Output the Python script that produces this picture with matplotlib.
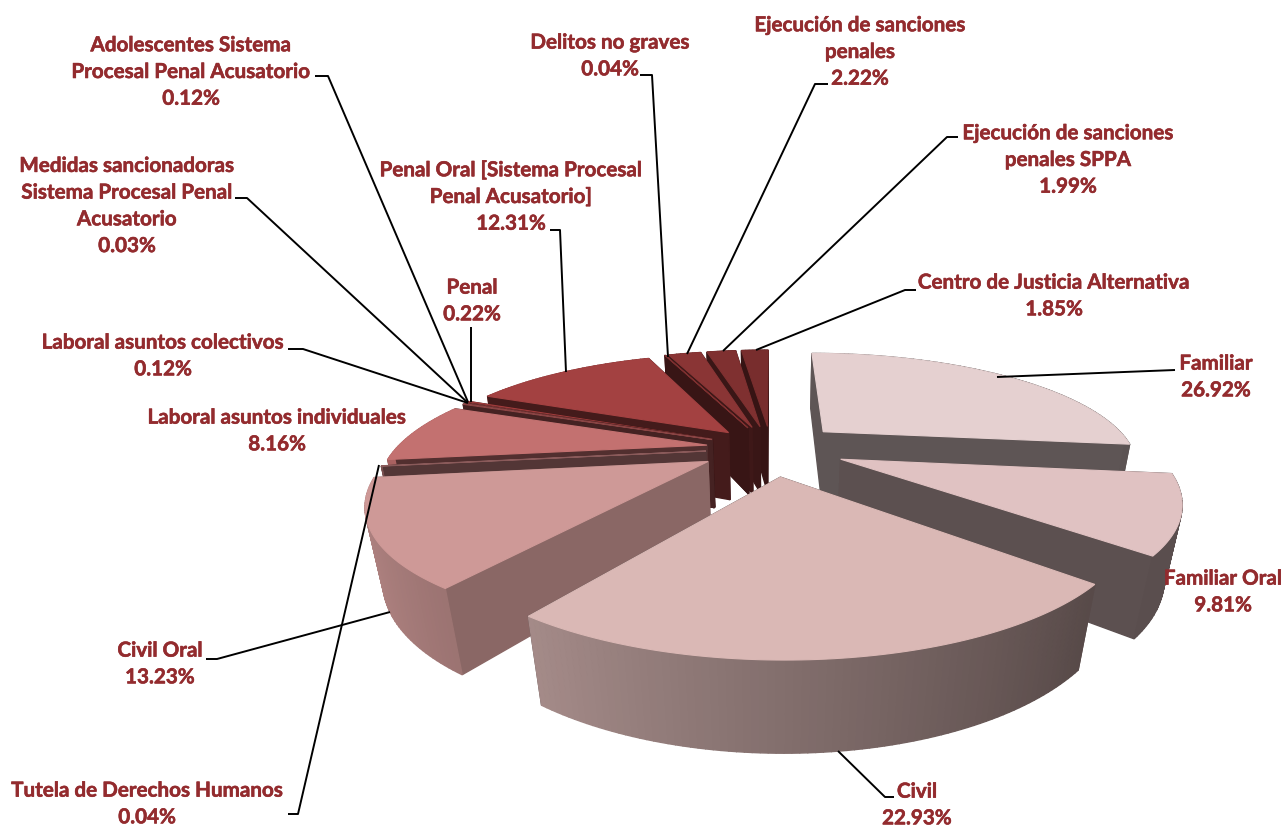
import numpy as np
import matplotlib
matplotlib.use('Agg')
import matplotlib.pyplot as plt
import matplotlib.patheffects as pe

# Slices, clockwise from 12 o'clock
categories = ['Familiar', 'Familiar Oral', 'Civil', 'Civil Oral',
              'Tutela de Derechos Humanos', 'Laboral asuntos individuales',
              'Laboral asuntos colectivos', 'Medidas sancionadoras',
              'Adolescentes', 'Penal', 'Penal Oral', 'Delitos no graves',
              'Ejecucion', 'Ejecucion SPPA', 'Centro de Justicia']
shares = [26.92, 9.81, 22.93, 13.23, 0.04, 8.16, 0.12, 0.03, 0.12, 0.22,
          12.31, 0.04, 2.22, 1.99, 1.85]

# Text of the labels, one entry per slice
label_texts = ['Familiar\n26.92%',
               'Familiar Oral\n9.81%',
               'Civil\n22.93%',
               'Civil Oral\n13.23%',
               'Tutela de Derechos Humanos\n0.04%',
               'Laboral asuntos individuales\n8.16%',
               'Laboral asuntos colectivos\n0.12%',
               'Medidas sancionadoras\nSistema Procesal Penal\nAcusatorio\n0.03%',
               'Adolescentes Sistema\nProcesal Penal Acusatorio\n0.12%',
               'Penal\n0.22%',
               'Penal Oral [Sistema Procesal\nPenal Acusatorio]\n12.31%',
               'Delitos no graves\n0.04%',
               'Ejecución de sanciones\npenales\n2.22%',
               'Ejecución de sanciones\npenales SPPA\n1.99%',
               'Centro de Justicia Alternativa\n1.85%']

# Styling per slice
top_colors = ['#E5D0D0', '#E0C2C2', '#DAB8B5', '#CE9997', '#8A5A5A', '#C37170',
              '#8A4444', '#8A3A3A', '#8A3A3A', '#A03C3C', '#A34141', '#7D2F2F',
              '#8A3535', '#7F3030', '#782D2D']
wall_shade = [0.41, 0.41, 0.41, 0.67, 0.6, 0.42, 0.5, 0.42, 0.42, 0.42, 0.42,
              0.45, 0.45, 0.45, 0.45]
explode = [0.235, 0.24, 0.25, 0.23, 0.21, 0.21, 0.21, 0.21, 0.21, 0.21, 0.205,
           0.21, 0.21, 0.21, 0.21]

# Label placement in pixels (centre of the text block)
label_pos = [(1216, 378), (1223, 593), (917, 806), (160, 665), (147, 805),
             (277, 432), (163, 357), (127, 207), (191, 73), (472, 302),
             (511, 198), (610, 57), (860, 53), (1068, 161), (1054, 297)]

# Leader lines in pixels
leaders = [[(997, 378), (1175, 371)],
           [(838, 752), (885, 798), (894, 798)],
           [(390, 613), (217, 660), (206, 660)],
           [(379, 466), (298, 815), (288, 815)],
           [(468, 404), (303, 350), (288, 350)],
           [(467, 403), (247, 199), (235, 199)],
           [(468, 403), (328, 77), (315, 77)],
           [(471, 403), (471, 328)],
           [(566, 373), (560, 231), (550, 231)],
           [(668, 358), (652, 76), (640, 76)],
           [(687, 355), (815, 85), (828, 85)],
           [(723, 352), (947, 138), (958, 138)],
           [(756, 351), (905, 291), (916, 291)]]

# Camera of the 3D pie
cx, cy = 771, 449
f, g, k = 310, 109, 0.287
depth, depth_k = 72, 0.04


def project(x, y, z=0):
    denom = 1 + k * y + depth_k * z
    return cx + f * x / denom, cy + (-g * y + depth * z) / denom


def shade(color, factor):
    rgb = np.array(matplotlib.colors.to_rgb(color))
    return tuple(rgb * factor)


fig = plt.figure(figsize=(12.85, 8.29), dpi=100)
ax = fig.add_axes([0, 0, 1, 1])
ax.set_xlim(0, 1285)
ax.set_ylim(829, 0)
ax.axis('off')

stops = np.cumsum([0] + shares) / sum(shares) * 2 * np.pi
slices = []
for i in range(len(shares)):
    slices.append((stops[i], stops[i + 1], i))
# far slices first
slices.sort(key=lambda s: -np.cos((s[0] + s[1]) / 2))

for a0, a1, i in slices:
    mid = (a0 + a1) / 2
    ox, oy = explode[i] * np.sin(mid), explode[i] * np.cos(mid)
    n = max(2, int(np.degrees(a1 - a0)) + 2)
    ang = np.linspace(a0, a1, n)
    ex = ox + np.sin(ang)
    ey = oy + np.cos(ang)
    color = top_colors[i]

    # walls: two radial ones and the outer strip, far ones first
    walls = []
    for j in [0, -1]:
        pts = [(ox, oy), (ex[j], ey[j])]
        walls.append((np.mean([p[1] for p in pts]), pts, wall_shade[i]))
    for j in range(n - 1):
        pts = [(ex[j], ey[j]), (ex[j + 1], ey[j + 1])]
        s = np.sin((ang[j] + ang[j + 1]) / 2)
        walls.append((np.mean([p[1] for p in pts]), pts,
                      np.clip(0.6 - 0.27 * s, 0.4, 0.9)))
    walls.sort(key=lambda w: -w[0])
    for _, pts, factor in walls:
        (x0, y0), (x1, y1) = pts
        quad = [project(x0, y0), project(x1, y1),
                project(x1, y1, 1), project(x0, y0, 1)]
        c = shade(color, factor)
        ax.fill(*zip(*quad), color=c, lw=1.0, zorder=2)

    # top face
    top = [project(ox, oy)] + [project(a, b) for a, b in zip(ex, ey)]
    ax.fill(*zip(*top), color=color, lw=0.8, zorder=2)

for line in leaders:
    xs, ys = zip(*line)
    ax.plot(xs, ys, color='black', lw=1.4, zorder=3, solid_capstyle='butt')

for text, (x, y) in zip(label_texts, label_pos):
    t = ax.text(x, y, text, ha='center', va='center', color='#932B2E',
                family='Lato', weight='bold', fontsize=14.85, linespacing=1.42,
                zorder=4)
    t.set_path_effects([pe.withStroke(linewidth=0.4, foreground='#932B2E')])

plt.savefig('out.png', dpi=100)
